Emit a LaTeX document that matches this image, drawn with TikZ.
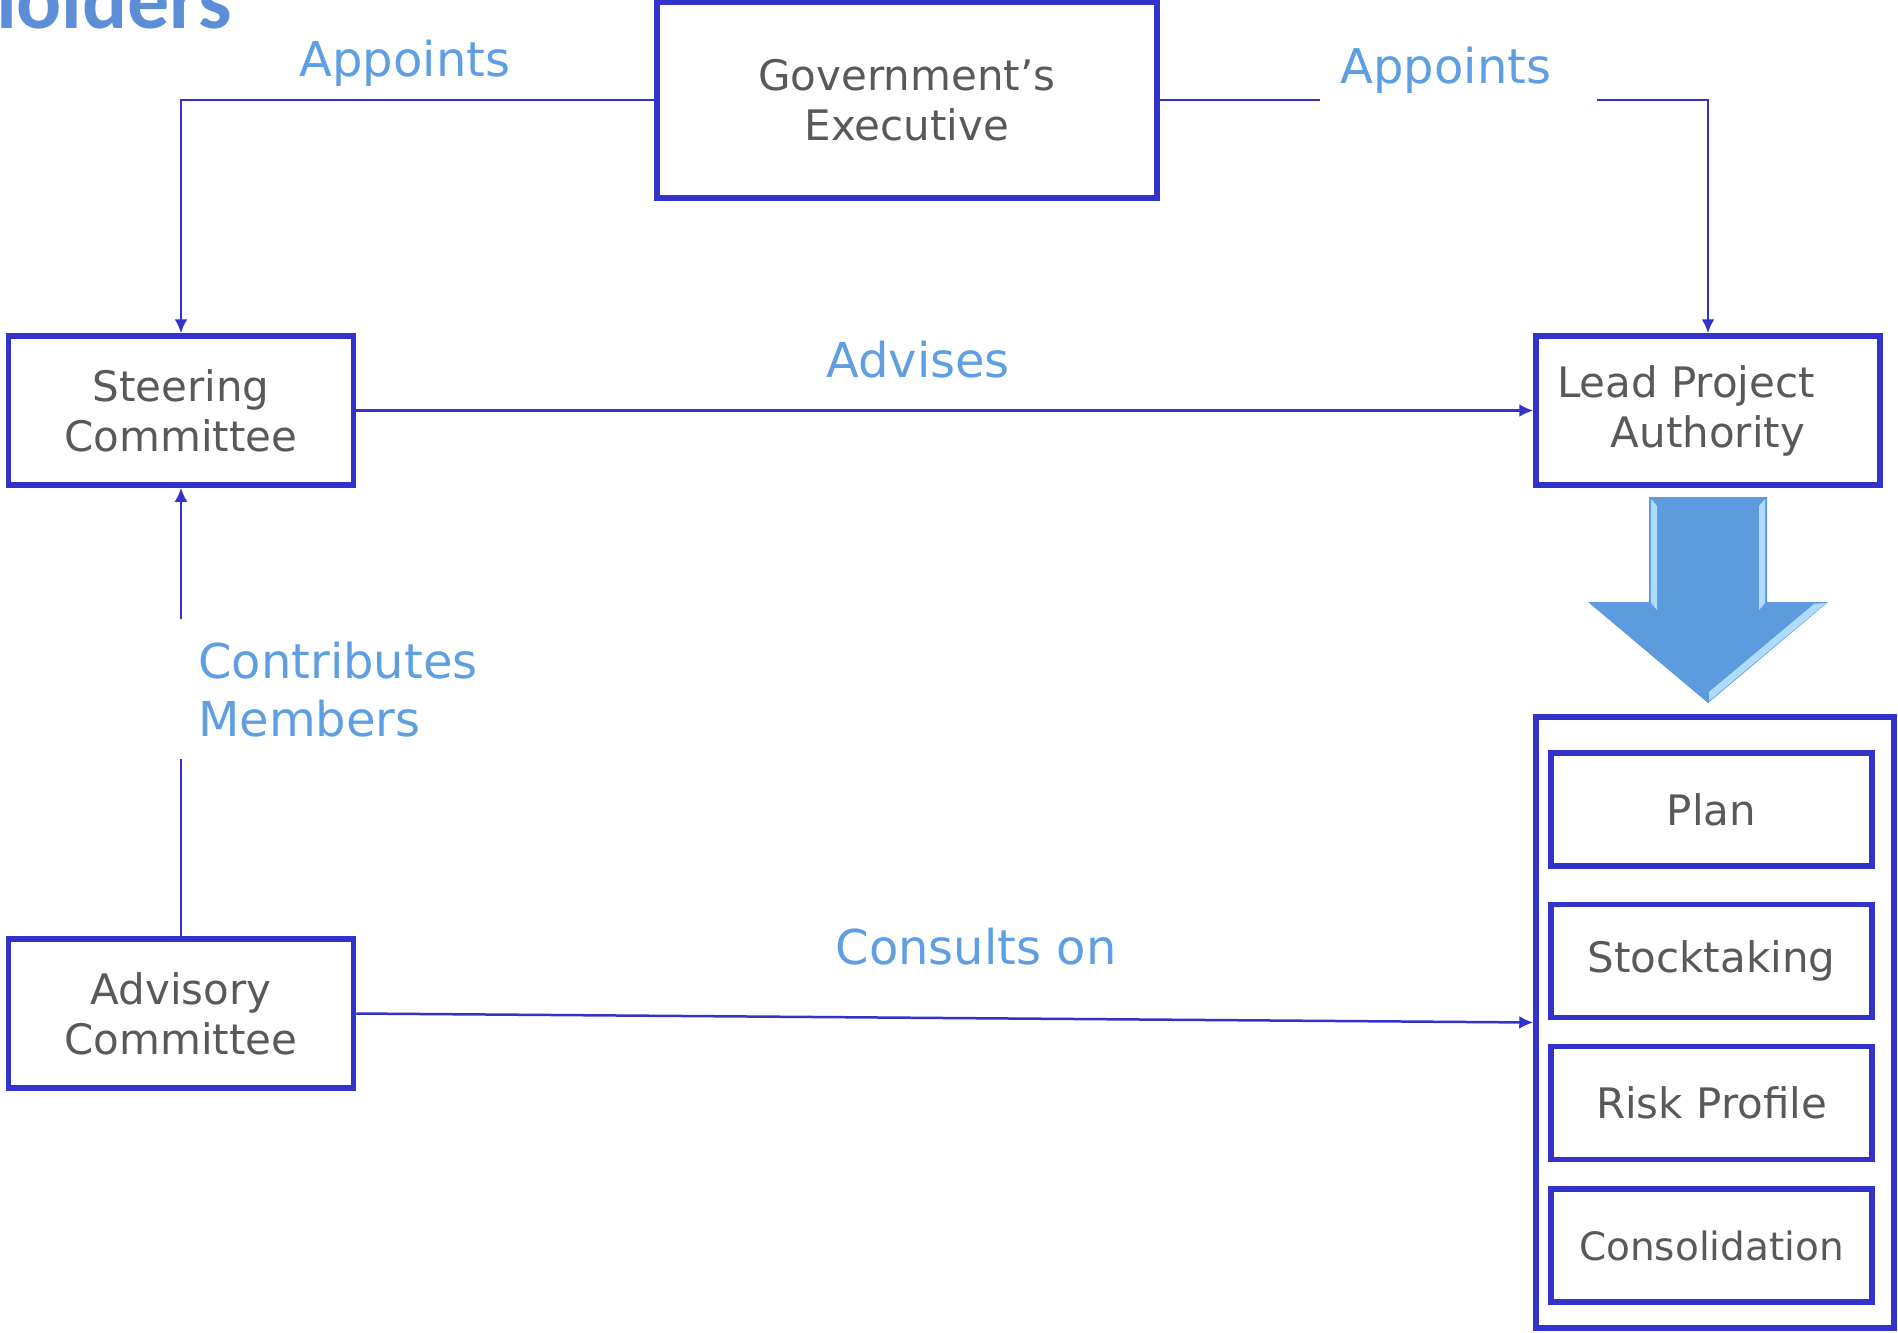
\documentclass[tikz,border=0pt]{standalone}
\usepackage{fontspec}
\setmainfont{DejaVu Sans}
\newfontfamily\titlefont{Carlito}
\usetikzlibrary{arrows.meta}
\definecolor{boxblue}{RGB}{51,51,204}
\definecolor{txtgray}{RGB}{89,89,89}
\definecolor{lblblue}{RGB}{94,158,226}
\definecolor{titleblue}{RGB}{91,142,214}
\definecolor{arrowfill}{RGB}{93,155,223}
\definecolor{bevel}{RGB}{175,220,252}
\begin{document}
\begin{tikzpicture}[x=1pt,y=-1pt,
 box/.style={draw=boxblue, line width=5.5pt, rectangle, text=txtgray, align=center, inner sep=0pt, font=\fontsize{42}{50}\selectfont},
 lbl/.style={text=lblblue, font=\fontsize{48}{58}\selectfont, inner sep=0pt},
 conn/.style={draw=boxblue, line width=2.5pt},
 tip/.style={-{Latex[length=14pt,width=13pt]}}
]
\useasboundingbox (0,0) rectangle (1898,1333);

% title (cut off at the page edge)
\node[anchor=base east, text=titleblue, font=\titlefont\bfseries\fontsize{84}{90}\selectfont, inner sep=0pt] (title) at (232,28) {Stakeholders};

% boxes
\node[box, minimum width=500pt, minimum height=196pt] (gov) at (907,100) {Government’s\\Executive};
\node[box, minimum width=345pt, minimum height=149pt] (st) at (181,410.5) {Steering\\Committee};
\node[box, minimum width=344pt, minimum height=149pt] (lpa) at (1708,410.5) {Lead Project\hspace*{44pt}\\Authority};
\node[box, minimum width=345pt, minimum height=149pt] (adv) at (181,1013.5) {Advisory\\Committee};
\node[box, minimum width=358pt, minimum height=611pt] (outer) at (1715,1022.5) {};
\node[box, minimum width=321pt, minimum height=113pt] (plan) at (1711.5,809.5) {Plan};
\node[box, minimum width=321pt, minimum height=113pt] (stock) at (1711.5,961) {Stocktaking};
\node[box, minimum width=321pt, minimum height=113pt] (risk) at (1711.5,1103) {Risk Profile};
\node[box, minimum width=321pt, minimum height=113pt, font=\fontsize{39}{46}\selectfont] (cons) at (1711.5,1245.5) {Consolidation};

% labels
\node[lbl, anchor=base] (lapp) at (405,76) {Appoints};
\node[lbl, anchor=base] (rapp) at (1446,83) {Appoints};
\node[lbl, anchor=base] (adva) at (918,377) {Advises};
\node[lbl, anchor=base] (conson) at (976,964) {Consults on};
\node[lbl, anchor=north west, align=left] (contr) at (198,642) {Contributes\\Members};

% connectors
\coordinate (ra1) at (1320,100);
\coordinate (ra2) at (1597,100);
\coordinate (cmt) at (181,619);
\coordinate (cmb) at (181,759);
\draw[conn,tip] (gov.west) -| (st.north);
\draw[conn] (gov.east) -- (ra1);
\draw[conn,tip] (ra2) -| (lpa.north);
\draw[conn,tip] (st.east) -- (lpa.west);
\draw[conn] (adv.north) -- (cmb);
\draw[conn,tip] (cmt) -- (st.south);
\draw[conn,tip] (adv.east) -- (outer.west);

% big down arrow with bevel
\fill[arrowfill] (1649,497) -- (1767,497) -- (1767,602) -- (1828,602) -- (1708,703) -- (1588,602) -- (1649,602) -- cycle;
\fill[bevel] (1651,499) -- (1657,506) -- (1657,610) -- (1651,603) -- cycle;
\fill[bevel] (1765,499) -- (1759,506) -- (1759,610) -- (1765,603) -- cycle;
\fill[bevel] (1826,603) -- (1709,701) -- (1709,692) -- (1814,604) -- cycle;
\end{tikzpicture}
\end{document}
